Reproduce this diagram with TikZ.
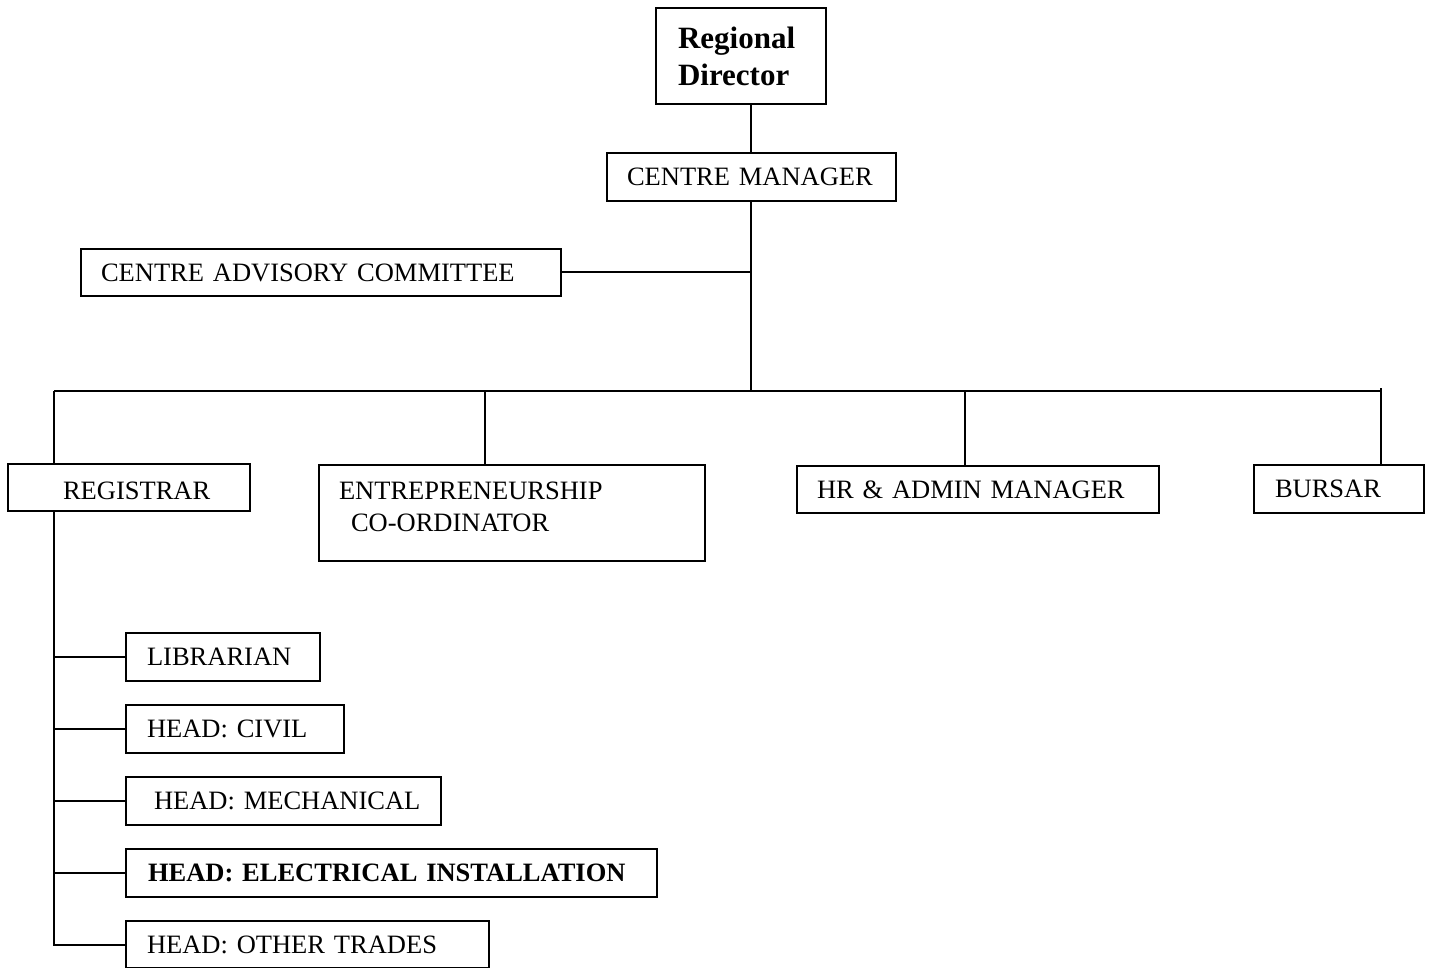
\documentclass[tikz,border=0pt]{standalone}
\usepackage{fontspec}
\setmainfont{Liberation Serif}
\begin{document}
\begin{tikzpicture}[x=1pt,y=-1pt,
  line width=2pt,
  box/.style={draw, line width=2pt, anchor=north west, align=left,
    inner xsep=0pt, inner ysep=0pt,
    font=\fontsize{26.5}{32}\selectfont},
  bbox/.style={box, font=\bfseries\fontsize{31}{37}\selectfont},
  link/.style={draw, line width=2pt}]
\useasboundingbox (0,0) rectangle (1430,968);
% boxes
\node[bbox, text width=170pt, minimum height=96pt] (rd) at (655,7) {\hspace*{22pt}Regional\\\hspace*{22pt}Director};
\node[box, text width=289pt, minimum height=48pt] (cm) at (606,152) {\hspace*{20pt}CENTRE MANAGER};
\node[box, text width=480pt, minimum height=47pt] (cac) at (80,248) {\hspace*{20pt}CENTRE ADVISORY COMMITTEE};
\node[box, text width=242pt, minimum height=47pt, text height=24pt] (reg) at (7,463) {\hspace*{55pt}REGISTRAR};
\node[box, text width=386pt, minimum height=96pt, text depth=44pt] (ent) at (318,464) {\hspace*{20pt}ENTREPRENEURSHIP\\\hspace*{32pt}CO-ORDINATOR};
\node[box, text width=362pt, minimum height=47pt] (hr) at (796,465) {\hspace*{20pt}HR \& ADMIN MANAGER};
\node[box, text width=170pt, minimum height=48pt] (bur) at (1253,464) {\hspace*{21pt}BURSAR};
\node[box, text width=194pt, minimum height=48pt] (lib) at (125,632) {\hspace*{21pt}LIBRARIAN};
\node[box, text width=218pt, minimum height=48pt] (civ) at (125,704) {\hspace*{21pt}HEAD: CIVIL};
\node[box, text width=315pt, minimum height=48pt] (mec) at (125,776) {\hspace*{28pt}HEAD: MECHANICAL};
\node[box, text width=531pt, minimum height=48pt] (ele) at (125,848) {\hspace*{22pt}\textbf{HEAD: ELECTRICAL INSTALLATION}};
\node[box, text width=363pt, minimum height=47pt] (oth) at (125,920) {\hspace*{21pt}HEAD: OTHER TRADES};
% junction coordinates
\coordinate (bus) at (751,391);
\coordinate (busl) at (54,391);
\coordinate (busr) at (1381,391);
\coordinate (rx) at (54,510);
\coordinate (ex) at (485,391);
\coordinate (hx) at (965,391);
% connectors
\draw[link] (cm.north -| bus) -- (rd.south -| bus);
\draw[link] (cm.south -| bus) -- (bus);
\draw[link] (cac.east) -- (cac.east -| bus);
\draw[link] (busl) -- (busr);
\draw[link] (busl) -- (reg.north -| busl);
\draw[link] (ex) -- (ent.north -| ex);
\draw[link] (hx) -- (hr.north -| hx);
\draw[link] (busr) -- (bur.north -| busr);
\draw[link] (busr) ++(0,-3) -- ++(0,6);
\draw[link] (rx) |- (oth.west);
\draw[link] (lib.west) -- (lib.west -| rx);
\draw[link] (civ.west) -- (civ.west -| rx);
\draw[link] (mec.west) -- (mec.west -| rx);
\draw[link] (ele.west) -- (ele.west -| rx);
\end{tikzpicture}
\end{document}
